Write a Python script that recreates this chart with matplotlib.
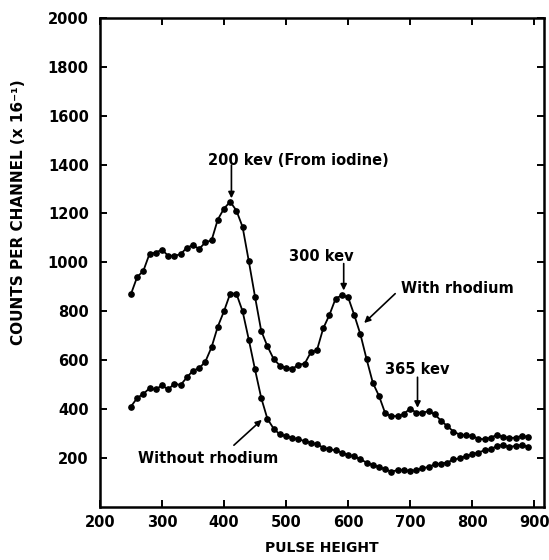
"""
Pulse height spectra with and without rhodium, redrawn from an old figure.
"""
import matplotlib
matplotlib.use("Agg")
import matplotlib.pyplot as plt
import numpy as np

# pulse height channels (one point every 10)
pulse = list(range(250, 891, 10))

with_rhodium = [
    870, 940, 965, 1035, 1040, 1052, 1027, 1027, 1033, 1060,
    1070, 1055, 1082, 1090, 1175, 1220, 1248, 1212, 1145, 1005,
    860, 720, 657, 605, 578, 569, 563, 582, 585, 632,
    642, 730, 785, 852, 865, 858, 785, 705, 603, 507,
    453, 382, 371, 371, 380, 402, 385, 385, 391, 378,
    352, 330, 308, 295, 292, 290, 279, 276, 283, 294,
    287, 281, 283, 290, 286,
]

without_rhodium = [
    410, 445, 462, 485, 480, 497, 480, 504, 498, 529,
    557, 567, 594, 653, 737, 800, 872, 872, 800, 684,
    562, 446, 360, 320, 296, 290, 282, 276, 269, 262,
    256, 242, 235, 231, 222, 212, 207, 194, 181, 171,
    163, 153, 144, 150, 150, 147, 150, 158, 163, 174,
    177, 181, 194, 198, 208, 215, 222, 231, 235, 249,
    253, 245, 249, 253, 246,
]

x_ticks = [200, 300, 400, 500, 600, 700, 800, 900]
y_ticks = [200, 400, 600, 800, 1000, 1200, 1400, 1600, 1800, 2000]

FONT = "DejaVu Sans"


def main():
    fig = plt.figure(figsize=(5.49, 5.60), dpi=100)
    ax = fig.add_axes([0.182, 0.095, 0.809, 0.873])

    for ys in (with_rhodium, without_rhodium):
        ax.plot(pulse, ys, color="black", lw=1.3, marker="o", ms=3.8,
                mfc="black", mec="black", zorder=3)

    ax.set_xlim(200, 916)
    ax.set_ylim(0, 2000)
    ax.set_xticks(x_ticks)
    ax.set_yticks(y_ticks)
    ax.set_xticklabels([str(v) for v in x_ticks], fontsize=10.5,
                       fontweight="bold", family=FONT)
    ax.set_yticklabels([str(v) for v in y_ticks], fontsize=10.5,
                       fontweight="bold", family=FONT)
    ax.tick_params(direction="in", length=5, width=1.4, top=True, right=True,
                   pad=8)
    ax.tick_params(axis="x", pad=6)
    for sp in ax.spines.values():
        sp.set_linewidth(1.8)

    ax.set_xlabel("PULSE HEIGHT", fontsize=10, fontweight="bold",
                  family=FONT, labelpad=8)
    fig.text(0.033, 1 - 212 / 560, "COUNTS PER CHANNEL (x 16\u207b\u00b9)",
             rotation=90, ha="center", va="center", fontsize=11,
             fontweight="bold", family=FONT)

    txt = dict(fontsize=10.5, fontweight="bold", family=FONT, ha="center",
               va="center")
    arrow = dict(arrowstyle="-|>", color="black", lw=1.2,
                 mutation_scale=9, shrinkA=0, shrinkB=0)

    ax.text(520, 1418, "200 kev (From iodine)", **txt)
    ax.annotate("", xy=(412, 1262), xytext=(412, 1398), arrowprops=arrow)

    ax.text(557, 1024, "300 kev", **txt)
    ax.annotate("", xy=(593, 885), xytext=(593, 995), arrowprops=arrow)

    ax.text(776, 893, "With rhodium", **txt)
    ax.annotate("", xy=(626, 752), xytext=(676, 872), arrowprops=arrow)

    ax.text(712, 563, "365 kev", **txt)
    ax.annotate("", xy=(712, 405), xytext=(712, 530), arrowprops=arrow)

    ax.text(374, 196, "Without rhodium", **txt)
    ax.annotate("", xy=(461, 356), xytext=(416, 252), arrowprops=arrow)

    fig.savefig("out.png", dpi=100)


if __name__ == "__main__":
    main()
